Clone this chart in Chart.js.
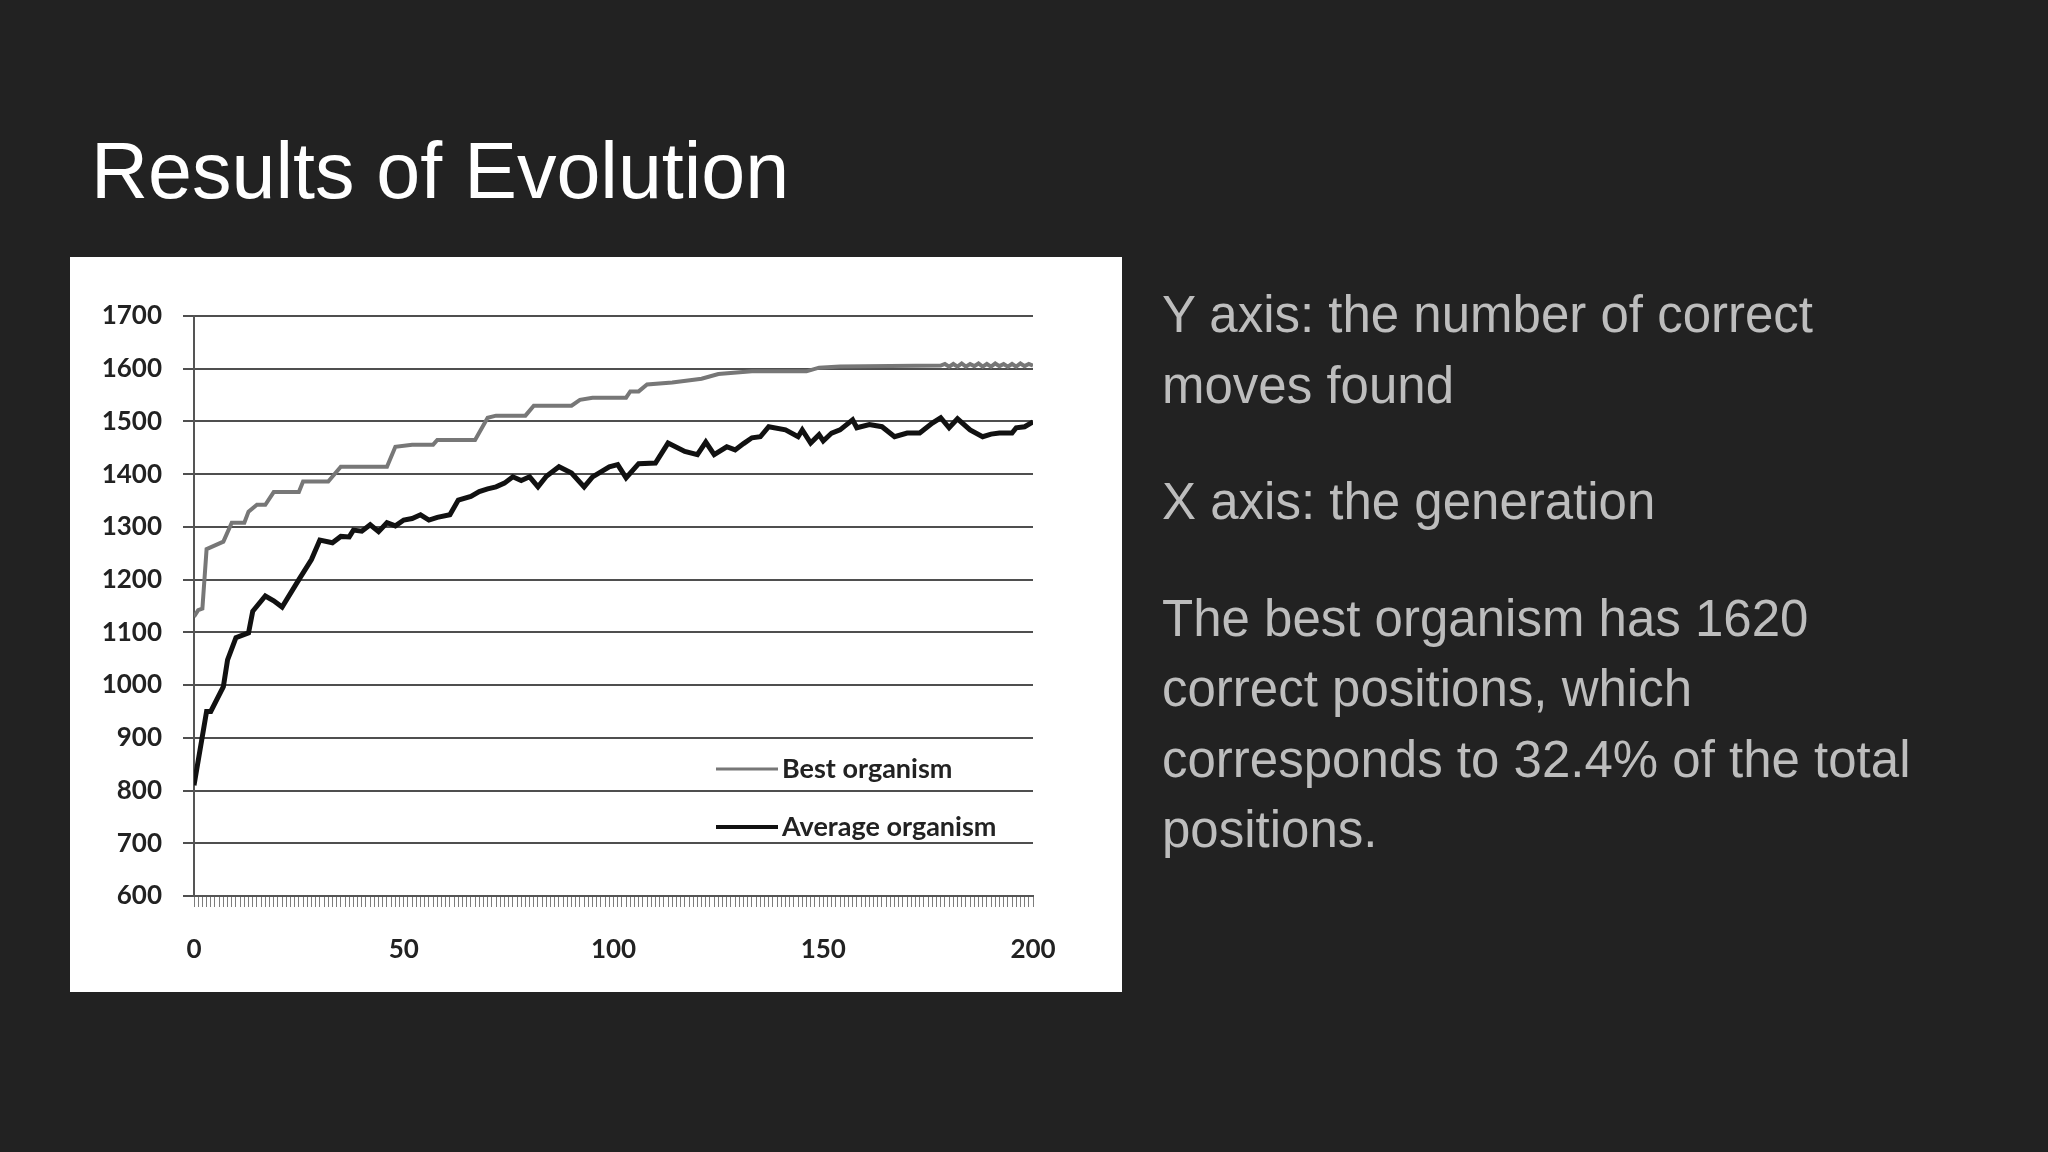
<!DOCTYPE html>
<html>
<head>
<meta charset="utf-8">
<script src="https://cdn.jsdelivr.net/npm/chart.js@4.4.1/dist/chart.umd.min.js"></script>
<style>
  html, body { margin: 0; padding: 0; }
  body { width: 2048px; height: 1152px; background: #222222; position: relative; overflow: hidden; font-family: "Liberation Sans", Arial, sans-serif; }
  #title { position: absolute; left: 91px; top: 126px; font-size: 79px; line-height: 90px; color: #ffffff; white-space: nowrap; }
  #box { position: absolute; left: 70px; top: 257px; width: 1052px; height: 735px; background: #ffffff; }
  #notes { position: absolute; left: 1162px; top: 280px; width: 860px; color: #bdbdbd; font-size: 51px; line-height: 70.5px; }
  #notes p { margin: 0 0 46px 0; }
</style>
</head>
<body>
<div id="title">Results of Evolution</div>
<div id="box"><canvas id="myChart"></canvas></div>
<div id="notes">
  <p>Y axis: the number of correct<br>moves found</p>
  <p>X axis: the generation</p>
  <p>The best organism has 1620<br>correct positions, which<br>corresponds to 32.4% of the total<br>positions.</p>
</div>
<script>
// generation -> correct moves
var bestGen = [0, 1, 2, 3, 7, 9, 12, 13, 15, 17, 19, 25, 26, 32, 35, 46, 48, 52, 57, 58, 67, 70, 72, 79, 81, 90, 92, 95, 103, 104, 106, 108, 114, 121, 125, 133, 146, 149, 154,
  178, 179, 180, 181, 182, 183, 184, 185, 186, 187, 188, 189, 190, 191, 192, 193, 194, 195, 196, 197, 198, 199, 200];
var bestVal = [1130, 1142, 1145, 1258, 1272, 1308, 1308, 1329, 1342, 1342, 1366, 1366, 1386, 1386, 1414, 1414, 1452, 1456, 1456, 1465, 1465, 1507, 1511, 1511, 1530, 1530, 1541, 1545, 1545, 1557, 1557, 1570, 1574, 1581, 1590, 1595, 1595, 1602, 1604,
  1606, 1609, 1604, 1609, 1604, 1610, 1604, 1609, 1605, 1610, 1604, 1609, 1604, 1610, 1605, 1609, 1604, 1609, 1604, 1610, 1605, 1609, 1606];

var avgGen = [0, 3, 4, 7, 8, 10, 13, 14, 17, 19, 21, 25, 28, 30, 33, 35, 37, 38, 40, 42, 44, 46, 48, 50, 52, 54, 56, 58, 61, 63, 66, 68, 70, 72, 74, 76, 78, 80, 82, 84, 87, 90, 93, 95, 99, 101, 103, 106, 110, 113, 117, 120, 122, 124, 127, 129, 131, 133, 135, 137, 141, 144, 145, 147, 149, 150, 152, 154, 157, 158, 161, 164, 167, 170, 173, 176, 178, 180, 182, 185, 188, 190, 192, 195, 196, 198, 200];
var avgVal = [810, 950, 950, 997, 1048, 1090, 1099, 1140, 1169, 1160, 1148, 1200, 1238, 1275, 1270, 1282, 1281, 1294, 1292, 1304, 1291, 1308, 1302, 1313, 1316, 1323, 1313, 1318, 1323, 1351, 1358, 1367, 1372, 1376, 1383, 1395, 1388, 1395, 1376, 1396, 1414, 1402, 1376, 1395, 1414, 1418, 1393, 1420, 1421, 1459, 1443, 1437, 1461, 1437, 1452, 1446, 1458, 1469, 1471, 1490, 1484, 1471, 1484, 1459, 1475, 1463, 1478, 1484, 1503, 1488, 1494, 1490, 1471, 1478, 1478, 1497, 1507, 1488, 1505, 1484, 1471, 1476, 1478, 1478, 1488, 1490, 1499];

var xLabels = [0, 50, 100, 150, 200];
var yMin = 600, yMax = 1700, yStep = 100;

function toPoints(gens, vals) {
  var pts = [];
  for (var i = 0; i < gens.length; i++) pts.push({ x: gens[i], y: vals[i] });
  return pts;
}

var tickFont = { family: 'Lato', weight: 'bold', size: 26 };

// legend drawn inside the plot, bottom right, like the original
var insideLegend = {
  id: 'insideLegend',
  afterDraw: function(chart) {
    var ctx = chart.ctx, area = chart.chartArea;
    var rows = [area.bottom - 127, area.bottom - 69];
    ctx.save();
    ctx.font = 'bold 27px Lato';
    ctx.textBaseline = 'middle';
    chart.data.datasets.forEach(function(ds, i) {
      var y = rows[i];
      var x0 = area.right - 317;
      ctx.strokeStyle = ds.borderColor;
      ctx.lineWidth = ds.borderWidth - 1;
      ctx.beginPath();
      ctx.moveTo(x0, y);
      ctx.lineTo(x0 + 62, y);
      ctx.stroke();
      ctx.fillStyle = '#222';
      ctx.fillText(ds.label, x0 + 66, y);
    });
    ctx.restore();
  }
};

window.onload = function() {
  var ctx = document.getElementById('myChart').getContext('2d');
  new Chart(ctx, {
    type: 'line',
    data: {
      datasets: [{
        label: 'Best organism',
        data: toPoints(bestGen, bestVal),
        borderColor: '#777777',
        borderWidth: 4,
        pointRadius: 0,
        tension: 0,
        fill: false
      }, {
        label: 'Average organism',
        data: toPoints(avgGen, avgVal),
        borderColor: '#111111',
        borderWidth: 5,
        pointRadius: 0,
        tension: 0,
        fill: false
      }]
    },
    options: {
      responsive: true,
      maintainAspectRatio: false,
      animation: false,
      layout: { padding: { top: 59, right: 89, bottom: 26, left: 0 } },
      plugins: {
        legend: { display: false },
        tooltip: { enabled: false }
      },
      scales: {
        x: {
          type: 'linear',
          min: 0,
          max: 200,
          afterFit: function(scale) { scale.height = 70; },
          border: { display: true, color: '#555', width: 2 },
          grid: { drawOnChartArea: false, drawTicks: true, tickLength: 11, color: 'rgba(70,70,70,0.7)', lineWidth: 1 },
          ticks: {
            stepSize: 1,
            autoSkip: false,
            maxRotation: 0,
            minRotation: 0,
            padding: 27,
            color: '#222',
            font: tickFont,
            callback: function(v) { return xLabels.indexOf(v) >= 0 ? String(v) : ''; }
          }
        },
        y: {
          min: yMin,
          max: yMax,
          afterFit: function(scale) { scale.width = 124; },
          border: { display: true, color: '#555', width: 2 },
          grid: { color: '#4f4f4f', lineWidth: 2, tickLength: 11 },
          ticks: {
            stepSize: yStep,
            padding: 21,
            color: '#222',
            font: tickFont,
            callback: function(v) { return String(v); }
          }
        }
      }
    },
    plugins: [insideLegend]
  });
};
</script>
</body>
</html>
